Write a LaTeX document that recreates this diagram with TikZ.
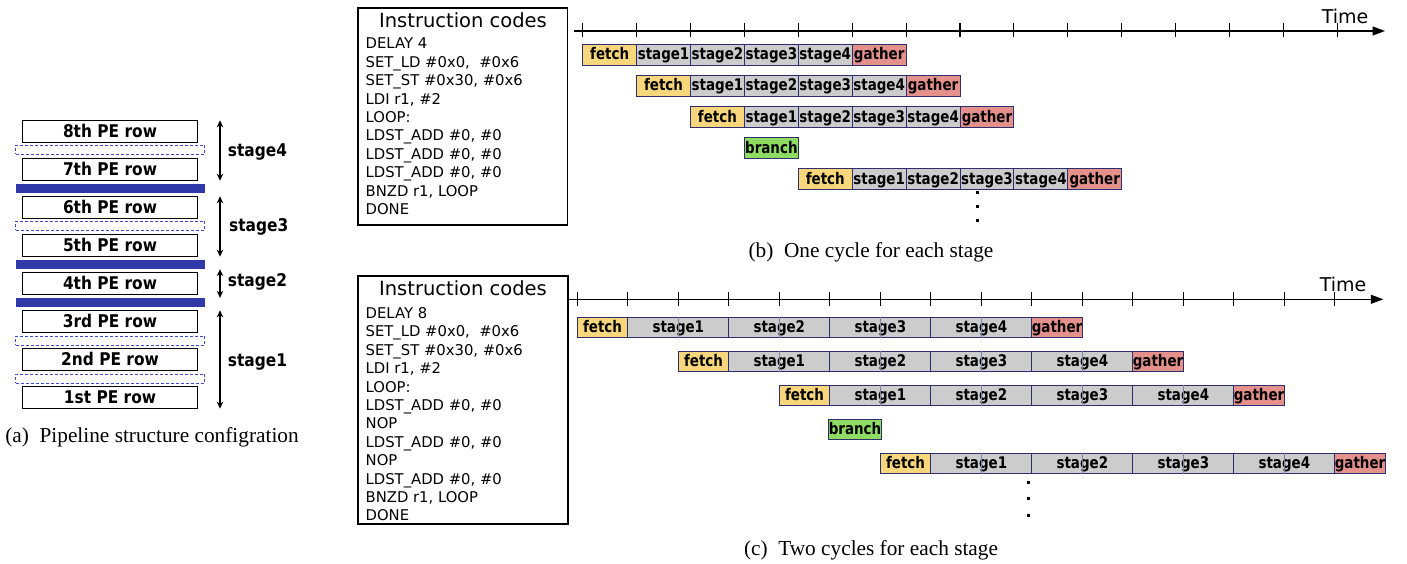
\documentclass[tikz,border=0pt]{standalone}
\usepackage{fontspec}
\setmainfont{Liberation Serif}
\newfontfamily\djsans{DejaVu Sans}
\newfontfamily\djcond{DejaVu Sans}[FakeStretch=0.88]
\newfontfamily\djcell{DejaVu Sans}[FakeStretch=0.84]
\usepackage{tikz}
\usetikzlibrary{arrows.meta}
\definecolor{fetchyel}{HTML}{F8D77C}
\definecolor{stagegry}{HTML}{CCCCCC}
\definecolor{gathred}{HTML}{E4908B}
\definecolor{brgreen}{HTML}{8EDD62}
\definecolor{cellnavy}{HTML}{2E2E6E}
\definecolor{barblue}{HTML}{3139A9}
\definecolor{dashblue}{HTML}{3D47C8}
\tikzset{
  perow/.style={draw=black,fill=white,line width=0.9pt,minimum width=174.6pt,minimum height=21.5pt,inner sep=0pt,text height=12.6pt,text depth=0pt,font=\djcond\bfseries\fontsize{17.5}{20}\selectfont},
  regdash/.style={draw=dashblue,dash pattern=on 3pt off 2pt,line width=0.9pt,minimum width=189pt,minimum height=9pt,inner sep=0pt},
  regbar/.style={fill=barblue,minimum width=189pt,minimum height=9.3pt,inner sep=0pt},
  stglbl/.style={anchor=west,inner sep=0pt,font=\djcond\bfseries\fontsize{17.5}{20}\selectfont},
  dblarr/.style={{Stealth[length=7pt,width=6.5pt]}-{Stealth[length=7pt,width=6.5pt]},line width=1.4pt},
  pcell/.style={draw=cellnavy,line width=0.9pt,inner sep=0pt,text height=11.7pt,text depth=1.5pt,font=\djcell\bfseries\fontsize{16}{18}\selectfont},
  fetchc/.style={pcell,fill=fetchyel},
  stagec/.style={pcell,fill=stagegry},
  gatherc/.style={pcell,fill=gathred},
  branchc/.style={pcell,fill=brgreen},
  divln/.style={draw=cellnavy!60,line width=0.5pt},
  codebox/.style={draw=black,line width=1.2pt,inner sep=0pt},
  codetitle/.style={inner sep=0pt,font=\djsans\fontsize{19.5}{22}\selectfont},
  codelist/.style={anchor=north west,inner sep=0pt,align=left,font=\djsans\fontsize{14.8}{18.4}\selectfont},
  timearr/.style={-{Triangle[length=12.5pt,width=9pt]},line width=1.1pt},
  tickln/.style={line width=1.1pt},
  timelbl/.style={inner sep=0pt,font=\djsans\fontsize{19}{22}\selectfont},
  dotsq/.style={fill=black,minimum size=3pt,inner sep=0pt},
  captxt/.style={inner sep=0pt,font=\fontsize{21.3}{24}\selectfont}
}
\begin{document}
\begin{tikzpicture}[x=1pt,y=-1pt]
  \fill[white] (0,0) rectangle (1407,564);
  \useasboundingbox (0,0) rectangle (1407,564);
  % (a) PE rows and stage registers
  \node[perow] (r8) at (110,131.5) {8th PE row};
  \node[regdash] (g87) at (110.2,149.8) {};
  \node[perow] (r7) at (110,169.5) {7th PE row};
  \node[regbar] (bar1) at (110.2,188.7) {};
  \node[perow] (r6) at (110,207.5) {6th PE row};
  \node[regdash] (g65) at (110.2,225.8) {};
  \node[perow] (r5) at (110,245.5) {5th PE row};
  \node[regbar] (bar2) at (110.2,264.3) {};
  \node[perow] (r4) at (110,283.5) {4th PE row};
  \node[regbar] (bar3) at (110.2,302.7) {};
  \node[perow] (r3) at (110,321.5) {3rd PE row};
  \node[regdash] (g32) at (110.2,340.5) {};
  \node[perow] (r2) at (110,359.5) {2nd PE row};
  \node[regdash] (g21) at (110.2,378.5) {};
  \node[perow] (r1) at (110,397.5) {1st PE row};
  \coordinate (ax) at (220,0);
  \draw[dblarr] (r8.north -| ax) -- (r7.south -| ax);
  \draw[dblarr] (r6.north -| ax) -- (r5.south -| ax);
  \draw[dblarr] (bar2.south -| ax) -- (bar3.north -| ax);
  \draw[dblarr] (r3.north -| ax) -- (r1.south -| ax);
  \node[stglbl] (s4) at (227.7,152) {stage4};
  \node[stglbl] (s3) at (229,227) {stage3};
  \node[stglbl] (s2) at (227.7,282.3) {stage2};
  \node[stglbl] (s1) at (227.7,361.7) {stage1};
  \node[captxt] (capa) at (152,437) {(a)\enspace Pipeline structure configration};
  % (b) one cycle for each stage
  \node[codebox,minimum width=209.3pt,minimum height=217pt] (codeb) at (462.7,116.5) {};
  \node[codetitle] (titleb) at (463,20) {Instruction codes};
  \node[codelist] (listb) at (365.5,38) {DELAY 4\\SET\_LD \#0x0,\ \ \#0x6\\SET\_ST \#0x30, \#0x6\\LDI r1, \#2\\LOOP:\\
     LDST\_ADD \#0, \#0\\LDST\_ADD \#0, \#0\\LDST\_ADD \#0, \#0\\BNZD r1, LOOP\\DONE};
  \coordinate (tb0) at (574,31); \coordinate (tb1) at (1385,31);
  \draw[timearr] (tb0) -- (tb1);
  \foreach \k in {0,...,14} \draw[tickln] ({582.7+53.9*\k},23.5) -- ++(0,14);
  \node[timelbl] (timeb) at (1345,16) {Time};
  \foreach \r/\s in {0/0,1/1,2/2,4/4}
    \foreach \st/\lbl [count=\k from 0] in {fetchc/fetch,stagec/stage1,stagec/stage2,stagec/stage3,stagec/stage4,gatherc/gather}
      \node[\st,minimum width=53.9pt,minimum height=21pt] (b\r\k) at ({582.7+53.9*(\s+\k+0.5)},{54.8+31.1*\r}) {\lbl};
  \node[branchc,minimum width=53.9pt,minimum height=21pt] (bbr) at ({582.7+53.9*3.5},{54.8+31.1*3}) {branch};
  \foreach \yy [count=\i] in {192.7,206.7,220} \node[dotsq] (bdot\i) at (977,\yy) {};
  \node[captxt] (capb) at (871,252) {(b)\enspace One cycle for each stage};
  % (c) two cycles for each stage
  \node[codebox,minimum width=210pt,minimum height=248pt] (codec) at (463,400) {};
  \node[codetitle] (titlec) at (463,288.3) {Instruction codes};
  \node[codelist] (listc) at (365.5,307.3) {DELAY 8\\SET\_LD \#0x0,\ \ \#0x6\\SET\_ST \#0x30, \#0x6\\LDI r1, \#2\\LOOP:\\
     LDST\_ADD \#0, \#0\\NOP\\LDST\_ADD \#0, \#0\\NOP\\LDST\_ADD \#0, \#0\\BNZD r1, LOOP\\DONE};
  \coordinate (tc0) at (569,299.3); \coordinate (tc1) at (1383.3,299.3);
  \draw[timearr] (tc0) -- (tc1);
  \foreach \k in {0,...,15} \draw[tickln] ({577.3+50.5*\k},292.3) -- ++(0,14);
  \node[timelbl] (timec) at (1343,284.3) {Time};
  \foreach \r/\s in {0/0,1/2,2/4,4/6}
    \foreach \st/\lbl/\o/\n in {fetchc/fetch/0/1,stagec/stage1/1/2,stagec/stage2/3/2,stagec/stage3/5/2,stagec/stage4/7/2,gatherc/gather/9/1}{
      \node[\st,minimum width=\n*50.5pt,minimum height=20pt] (c\r\o) at ({577.3+50.5*(\s+\o+\n/2)},{327.5+34*\r}) {\lbl};
      \ifnum\n=2 \draw[divln] (c\r\o.north) -- (c\r\o.south);\fi}
  \node[branchc,minimum width=50.5pt,minimum height=20pt] (cbr) at ({577.3+50.5*5.5},{327.5+34*3}) {branch};
  \foreach \yy [count=\i] in {482,498.7,515} \node[dotsq] (cdot\i) at (1028,\yy) {};
  \node[captxt] (capc) at (871,550) {(c)\enspace Two cycles for each stage};
\end{tikzpicture}
\end{document}
